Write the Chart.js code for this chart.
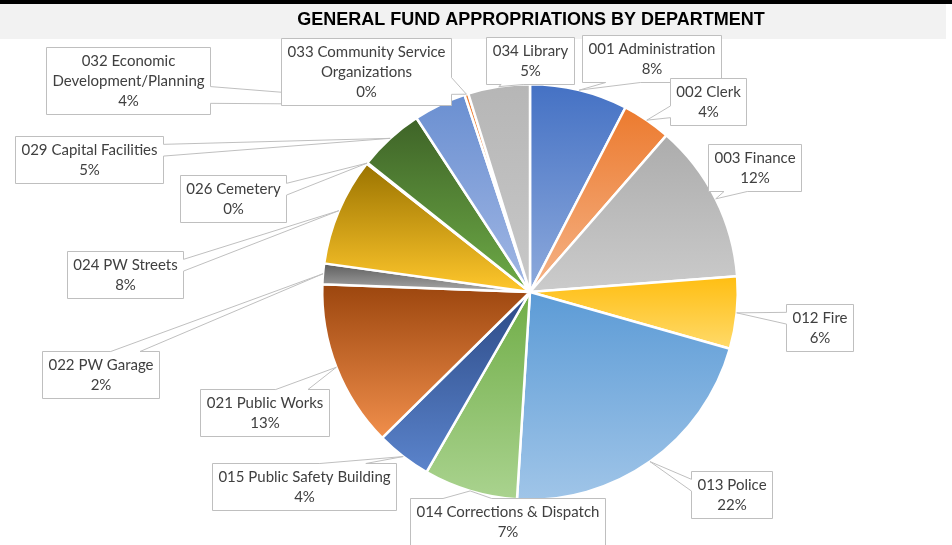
<!DOCTYPE html>
<html>
<head>
<meta charset="utf-8">
<title>General Fund Appropriations by Department</title>
<script src="https://cdn.jsdelivr.net/npm/chart.js@4.4.1/dist/chart.umd.min.js"></script>
<style>
  html, body { margin: 0; padding: 0; background: #ffffff; }
  #wrap { width: 952px; height: 545px; position: relative; }
</style>
</head>
<body>
<div id="wrap"><canvas id="chart" width="952" height="545"></canvas></div>
<script>
// ---- data ----
const chartTitle = 'GENERAL FUND APPROPRIATIONS BY DEPARTMENT';

const departments = [
  '001 Administration',
  '002 Clerk',
  '003 Finance',
  '012 Fire',
  '013 Police',
  '014 Corrections & Dispatch',
  '015 Public Safety Building',
  '021 Public Works',
  '022 PW Garage',
  '024 PW Streets',
  '026 Cemetery',
  '029 Capital Facilities',
  '032 Economic Development/Planning',
  '033 Community Service Organizations',
  '034 Library'
];

// share of the general fund, percent
const shares = [7.6, 3.8, 12.4, 5.6, 21.6, 7.3, 4.3, 13.0, 1.6, 8.4, 0.1, 5.1, 4.1, 0.3, 4.8];

// ---- styling ----
// each slice is shaded top-to-bottom between these two colours
const shadeTop = [
  '#4471c4', '#ec7a2e', '#acacac', '#ffbe12', '#5c9bd6', '#70ad47', '#2c4a86', '#9c460e',
  '#5c5c5c', '#9a7300', '#a5a5a5', '#3e6327', '#6a8fd1', '#ed7d31', '#b6b6b6'
];
const shadeBottom = [
  '#8eaadc', '#f5b387', '#cbcbcb', '#ffda6a', '#a0c5e8', '#aad38f', '#5b84cc', '#f18f4c',
  '#a8a8a8', '#ffc72c', '#c8c8c8', '#6eab47', '#a1b7e4', '#f4b183', '#c8c8c8'
];

// callout box centres (canvas px)
const calloutCentres = [
  [651, 58], [708, 101], [754, 167], [819, 327], [731, 494],
  [507, 521], [304, 486], [264, 412], [100, 374], [125, 274],
  [233, 198], [89, 159], [128, 80], [366, 71], [530, 60]
];

const LABEL_FONT = '15px Lato, "Noto Sans", sans-serif';
const LABEL_LINE = 20;
const LABEL_PAD_X = 6;
const LABEL_PAD_Y = 3.5;
const LABEL_WRAP = 200;

const total = shares.reduce((a, b) => a + b, 0);
const pctText = v => Math.round(v / total * 100) + '%';

// vertical linear gradient spanning one slice's own bounding box
const gradientCache = {};
function sliceGradient(context) {
  const chart = context.chart;
  const i = context.dataIndex;
  const area = chart.chartArea;
  if (!area) return shadeTop[i];
  const key = i + ':' + area.top + ':' + area.bottom + ':' + area.left + ':' + area.right;
  if (gradientCache[key]) return gradientCache[key];
  const cy = (area.top + area.bottom) / 2;
  const r = Math.min(area.right - area.left, area.bottom - area.top) / 2;
  let before = 0;
  for (let k = 0; k < i; k++) before += shares[k];
  const a0 = -Math.PI / 2 + before / total * 2 * Math.PI;
  const a1 = a0 + shares[i] / total * 2 * Math.PI;
  const ys = [cy, cy + r * Math.sin(a0), cy + r * Math.sin(a1)];
  for (const q of [-Math.PI / 2, Math.PI / 2, 3 * Math.PI / 2]) {
    if (q >= a0 && q <= a1) ys.push(cy + r * Math.sin(q));
  }
  const y0 = Math.min(...ys), y1 = Math.max(...ys);
  const g = chart.ctx.createLinearGradient(0, y0, 0, Math.max(y1, y0 + 1));
  g.addColorStop(0, shadeTop[i]);
  g.addColorStop(1, shadeBottom[i]);
  gradientCache[key] = g;
  return g;
}

function wrapText(ctx, text, maxW) {
  const words = text.split(' ');
  const lines = [];
  let cur = '';
  for (const w of words) {
    const t = cur ? cur + ' ' + w : w;
    if (cur && ctx.measureText(t).width > maxW) { lines.push(cur); cur = w; }
    else cur = t;
  }
  if (cur) lines.push(cur);
  return lines;
}

// rectangle callout with a wedge pointing at (tx, ty)
function calloutPath(ctx, l, t, w, h, tx, ty) {
  const r = l + w, b = t + h, hc = l + w / 2, vc = t + h / 2;
  const dx = tx - hc, dy = ty - vc;
  const dq = dx * h / w;
  const dz = Math.abs(dy) - Math.abs(dq);
  const x1 = l + w * (dx > 0 ? 7 : 2) / 12, x2 = l + w * (dx > 0 ? 10 : 5) / 12;
  const y1 = t + h * (dy > 0 ? 7 : 2) / 12, y2 = t + h * (dy > 0 ? 10 : 5) / 12;
  ctx.beginPath();
  ctx.moveTo(l, t);
  if (dz > 0 && dy <= 0) { ctx.lineTo(x1, t); ctx.lineTo(tx, ty); ctx.lineTo(x2, t); }
  ctx.lineTo(r, t);
  if (dz <= 0 && dx > 0) { ctx.lineTo(r, y1); ctx.lineTo(tx, ty); ctx.lineTo(r, y2); }
  ctx.lineTo(r, b);
  if (dz > 0 && dy > 0) { ctx.lineTo(x2, b); ctx.lineTo(tx, ty); ctx.lineTo(x1, b); }
  ctx.lineTo(l, b);
  if (dz <= 0 && dx <= 0) { ctx.lineTo(l, y2); ctx.lineTo(tx, ty); ctx.lineTo(l, y1); }
  ctx.closePath();
}

const titleBand = {
  id: 'titleBand',
  beforeDraw(chart) {
    const ctx = chart.ctx;
    ctx.save();
    ctx.fillStyle = '#000000';
    ctx.fillRect(0, 0, chart.width, 4);
    ctx.fillStyle = '#f2f2f2';
    ctx.fillRect(0, 4, 946, 35);
    ctx.fillStyle = '#000000';
    ctx.font = 'bold 18px "Liberation Sans Narrow", "Liberation Sans", Arial, sans-serif';
    ctx.textAlign = 'center';
    ctx.textBaseline = 'middle';
    ctx.fillText(chartTitle, 531, 20);
    ctx.restore();
  }
};

const callouts = {
  id: 'callouts',
  afterDatasetsDraw(chart) {
    const ctx = chart.ctx;
    const meta = chart.getDatasetMeta(0);
    ctx.save();
    ctx.font = LABEL_FONT;
    meta.data.forEach((arc, i) => {
      const p = arc.getProps(['x', 'y', 'startAngle', 'endAngle', 'outerRadius'], true);
      const mid = (p.startAngle + p.endAngle) / 2;
      const tx = p.x + Math.cos(mid) * p.outerRadius;
      const ty = p.y + Math.sin(mid) * p.outerRadius;
      const lines = wrapText(ctx, departments[i], LABEL_WRAP);
      lines.push(pctText(shares[i]));
      const textW = Math.max(...lines.map(s => ctx.measureText(s).width));
      const w = Math.round(textW + 2 * LABEL_PAD_X);
      const h = Math.round(lines.length * LABEL_LINE + 2 * LABEL_PAD_Y);
      const [cx, cy] = calloutCentres[i];
      const l = Math.round(cx - w / 2) + 0.5;
      const t = Math.round(cy - h / 2) + 0.5;
      calloutPath(ctx, l, t, w, h, tx, ty);
      ctx.fillStyle = '#ffffff';
      ctx.fill();
      ctx.strokeStyle = '#bfbfbf';
      ctx.lineWidth = 1;
      ctx.stroke();
      ctx.fillStyle = '#404040';
      ctx.textAlign = 'center';
      ctx.textBaseline = 'middle';
      lines.forEach((s, k) => {
        ctx.fillText(s, l + w / 2, t + LABEL_PAD_Y + LABEL_LINE * (k + 0.5));
      });
    });
    ctx.restore();
  }
};

new Chart(document.getElementById('chart'), {
  type: 'pie',
  data: {
    labels: departments,
    datasets: [{
      data: shares,
      backgroundColor: sliceGradient,
      borderColor: '#ffffff',
      borderWidth: 2.5
    }]
  },
  options: {
    responsive: false,
    animation: false,
    events: [],
    layout: { padding: { top: 83, bottom: 44, left: 321, right: 213 } },
    plugins: {
      legend: { display: false },
      tooltip: { enabled: false },
      title: { display: false }
    }
  },
  plugins: [titleBand, callouts]
});
</script>
</body>
</html>
